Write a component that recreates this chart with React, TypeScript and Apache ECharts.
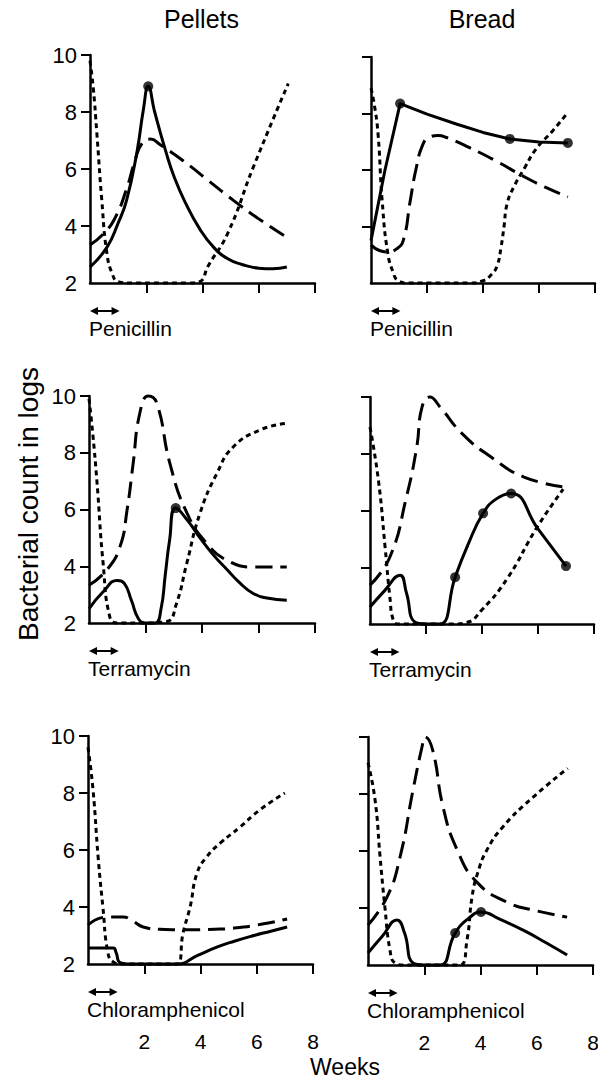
import React, { useEffect, useRef } from "react";
import * as echarts from "echarts";

// ---------- data (weeks, log bacterial count) ----------
const weekTicks = [2, 4, 6, 8];
const logTickLabels = [2, 4, 6, 8, 10];
const logTickMarks = [4, 6, 8, 10];
const columnTitles = ["Pellets", "Bread"];
const drugs = ["Penicillin", "Terramycin", "Chloramphenicol"];
const drugPeriod = [0, 1.05];

// Pellets – Penicillin
const pelPenSolid = [[0, 2.56], [0.6, 3.25], [1.0, 4.1], [1.3, 4.9], [1.67, 6.6], [1.9, 8.1], [2.07, 8.9], [2.3, 8.0], [2.7, 6.6], [3.0, 5.7], [3.4, 4.8], [3.9, 3.9], [4.4, 3.25], [4.9, 2.85], [5.4, 2.65], [6.0, 2.52], [6.5, 2.5], [7.0, 2.56]];
const pelPenDashed = [[0, 3.33], [0.5, 3.75], [0.9, 4.3], [1.3, 5.3], [1.6, 6.3], [1.85, 6.9], [2.15, 7.05], [2.5, 6.85], [3.3, 6.3], [4.2, 5.6], [5.1, 4.9], [6.0, 4.25], [7.0, 3.6]];
const pelPenDotted = [[0, 9.8], [0.12, 8.8], [0.24, 7.3], [0.42, 4.9], [0.6, 3.05], [0.8, 2.3], [1.0, 2.05], [1.5, 2.0], [2.5, 2.0], [3.5, 2.0], [3.9, 2.05], [4.2, 2.6], [4.9, 3.75], [5.8, 6.05], [7.05, 9.0]];
const pelPenDots = [[2.07, 8.9]];

// Bread – Penicillin
const brPenSolid = [[0, 3.5], [0.5, 6.0], [1.04, 8.35], [2.0, 7.98], [3.07, 7.62], [4.0, 7.33], [4.96, 7.1], [6.0, 6.99], [7.03, 6.96]];
const brPenDashed = [[0, 3.35], [0.3, 3.15], [0.6, 3.1], [0.9, 3.2], [1.15, 3.5], [1.4, 4.9], [1.6, 6.0], [1.85, 6.9], [2.1, 7.17], [2.4, 7.22], [2.7, 7.15], [3.5, 6.8], [4.5, 6.3], [5.4, 5.8], [6.2, 5.4], [7.03, 5.05]];
const brPenDotted = [[0, 8.9], [0.12, 8.3], [0.25, 7.3], [0.4, 4.9], [0.6, 3.05], [0.8, 2.35], [0.95, 2.1], [1.3, 2.0], [2.5, 2.0], [3.5, 2.0], [4.0, 2.08], [4.3, 2.3], [4.5, 2.6], [4.65, 3.3], [4.75, 4.0], [4.86, 4.8], [5.1, 5.4], [5.5, 6.1], [5.9, 6.75], [6.5, 7.4], [7.0, 8.0]];
const brPenDots = [[1.04, 8.35], [4.96, 7.1], [7.03, 6.96]];

// Pellets – Terramycin
const pelTerSolid = [[0, 2.5], [0.5, 3.1], [1.0, 3.5], [1.25, 3.4], [1.5, 2.8], [1.75, 2.15], [2.0, 2.0], [2.35, 2.0], [2.55, 2.5], [2.7, 3.7], [2.85, 4.9], [3.07, 6.05], [3.5, 5.6], [3.93, 5.0], [4.4, 4.4], [4.9, 3.87], [5.3, 3.45], [5.8, 3.05], [6.3, 2.88], [7.0, 2.8]];
const pelTerDashed = [[0, 3.33], [0.63, 3.87], [1.1, 4.7], [1.35, 6.0], [1.56, 7.6], [1.8, 9.4], [2.1, 10.0], [2.4, 9.75], [2.87, 7.6], [3.47, 5.87], [4.17, 4.8], [4.9, 4.2], [5.8, 3.97], [7.0, 3.97]];
const pelTerDotted = [[0, 9.9], [0.14, 8.6], [0.28, 7.0], [0.5, 4.1], [0.74, 2.2], [1.0, 2.0], [2.0, 2.0], [2.75, 2.05], [3.1, 2.7], [3.46, 4.1], [3.93, 5.87], [4.53, 7.28], [5.1, 8.2], [6.05, 8.8], [7.0, 9.04]];
const pelTerDots = [[3.07, 6.05]];

// Bread – Terramycin
const brTerSolid = [[0, 2.6], [0.5, 3.15], [1.07, 3.72], [1.3, 3.1], [1.6, 2.07], [2.0, 2.0], [2.5, 2.0], [3.04, 3.65], [3.5, 4.8], [4.04, 5.9], [4.5, 6.4], [5.04, 6.6], [6.0, 5.35], [7.0, 4.04]];
const brTerDashed = [[0, 3.37], [0.71, 4.36], [1.3, 6.47], [1.67, 8.24], [1.86, 9.65], [2.14, 10.0], [2.5, 9.65], [3.3, 8.7], [4.3, 7.9], [5.5, 7.18], [6.96, 6.83]];
const brTerDotted = [[0, 8.94], [0.3, 7.07], [0.54, 4.7], [0.71, 2.95], [0.83, 2.14], [1.0, 2.0], [2.0, 2.0], [3.0, 2.0], [3.45, 2.05], [4.0, 2.5], [4.9, 3.6], [5.96, 5.4], [6.9, 6.75]];
const brTerDots = [[3.04, 3.65], [4.04, 5.9], [5.04, 6.6], [7.0, 4.04]];

// Pellets – Chloramphenicol
const pelChlSolid = [[0, 2.56], [0.9, 2.56], [1.0, 2.4], [1.14, 2.05], [1.5, 2.0], [3.17, 2.0], [3.9, 2.3], [4.6, 2.6], [5.2, 2.8], [5.9, 3.0], [6.5, 3.15], [7.08, 3.3]];
const pelChlDashed = [[0, 3.37], [0.67, 3.65], [1.25, 3.65], [1.6, 3.5], [1.96, 3.3], [2.56, 3.22], [3.5, 3.2], [4.5, 3.22], [5.2, 3.26], [6.2, 3.4], [7.08, 3.58]];
const pelChlDotted = [[0, 9.6], [0.18, 8.1], [0.36, 5.75], [0.53, 4.0], [0.71, 2.39], [0.9, 2.07], [1.2, 2.0], [3.17, 2.0], [3.38, 3.09], [3.63, 4.0], [3.88, 5.2], [4.23, 5.77], [4.7, 6.24], [5.4, 6.8], [6.1, 7.4], [7.0, 8.0]];
const pelChlDots: number[][] = [];

// Bread – Chloramphenicol
const brChlSolid = [[0, 2.42], [0.5, 3.0], [1.03, 3.58], [1.3, 3.12], [1.6, 2.07], [2.0, 2.0], [2.56, 2.0], [3.1, 3.12], [3.63, 3.68], [4.02, 3.86], [4.7, 3.6], [5.5, 3.23], [6.3, 2.8], [7.08, 2.35]];
const brChlDashed = [[0, 3.4], [0.68, 4.39], [1.14, 5.79], [1.6, 8.14], [1.92, 9.65], [2.03, 10.0], [2.3, 9.54], [2.67, 7.54], [3.17, 6.04], [3.88, 4.9], [4.95, 4.2], [6.0, 3.9], [7.08, 3.68]];
const brChlDotted = [[0, 9.1], [0.25, 7.8], [0.43, 5.79], [0.6, 4.04], [0.78, 2.53], [0.96, 2.07], [1.3, 2.0], [3.27, 2.0], [3.52, 2.88], [3.7, 4.39], [3.9, 5.23], [4.23, 6.04], [4.8, 6.85], [5.77, 7.8], [7.1, 8.9]];
const brChlDots = [[3.1, 3.12], [4.02, 3.86]];

const panels = [
  { solid: pelPenSolid, dashed: pelPenDashed, dotted: pelPenDotted, dots: pelPenDots, drug: drugs[0] },
  { solid: brPenSolid, dashed: brPenDashed, dotted: brPenDotted, dots: brPenDots, drug: drugs[0] },
  { solid: pelTerSolid, dashed: pelTerDashed, dotted: pelTerDotted, dots: pelTerDots, drug: drugs[1] },
  { solid: brTerSolid, dashed: brTerDashed, dotted: brTerDotted, dots: brTerDots, drug: drugs[1] },
  { solid: pelChlSolid, dashed: pelChlDashed, dotted: pelChlDotted, dots: pelChlDots, drug: drugs[2] },
  { solid: brChlSolid, dashed: brChlDashed, dotted: brChlDotted, dots: brChlDots, drug: drugs[2] },
];

// ---------- layout / style ----------
const W = 598;
const H = 1083;
const FONT = '"Liberation Sans", Arial, Helvetica, sans-serif';
const gridRects = [
  { left: 90, top: 55, width: 225, height: 228 },
  { left: 371, top: 57, width: 224, height: 226 },
  { left: 89, top: 396, width: 226, height: 227 },
  { left: 370, top: 397, width: 224, height: 227 },
  { left: 88, top: 736, width: 225, height: 228 },
  { left: 368, top: 737, width: 225, height: 228 },
];
// solid curve of Bread/Penicillin is drawn as a polyline between points
const solidSmooth = [0.5, 0, 0.5, 0.5, 0.5, 0.5];

export default function App() {
  const ref = useRef<HTMLDivElement>(null);
  useEffect(() => {
    if (!ref.current) return;
    const chart = echarts.init(ref.current, null, { renderer: "svg", width: W, height: H });
    const axisLineStyle = { color: "#000", width: 2.5 };

    const grid = gridRects.map((r) => ({ ...r, containLabel: false, outerBoundsMode: "none" }));
    const xAxis = gridRects.map((_, i) => ({
      type: "value",
      gridIndex: i,
      min: 0,
      max: 8,
      interval: 2,
      axisLine: { show: true, onZero: false, lineStyle: axisLineStyle },
      axisTick: { show: true, inside: false, length: 10, customValues: weekTicks, lineStyle: { color: "#000", width: 2 } },
      axisLabel: { show: i >= 4, customValues: weekTicks, margin: 67, fontSize: 21, color: "#000", fontFamily: FONT },
      splitLine: { show: false },
    }));
    const yAxis = gridRects.map((_, i) => ({
      type: "value",
      gridIndex: i,
      min: 2,
      max: 10,
      interval: 2,
      axisLine: { show: true, onZero: false, lineStyle: axisLineStyle },
      axisTick: { show: true, inside: false, length: 9, customValues: logTickMarks, lineStyle: { color: "#000", width: 2 } },
      axisLabel: { show: i % 2 === 0, customValues: logTickLabels, margin: 13, fontSize: 22, color: "#000", fontFamily: FONT },
      splitLine: { show: false },
    }));

    const series: any[] = [];
    panels.forEach((p, i) => {
      const base = {
        type: "line",
        xAxisIndex: i,
        yAxisIndex: i,
        symbol: "none",
        showSymbol: false,
        smooth: 0.5,
        clip: false,
        silent: true,
      };
      series.push({ ...base, smooth: solidSmooth[i] || false, data: p.solid, lineStyle: { color: "#000", width: 3, type: "solid" } });
      series.push({ ...base, data: p.dashed, lineStyle: { color: "#000", width: 3, type: [17, 8] } });
      series.push({ ...base, data: p.dotted, lineStyle: { color: "#000", width: 3, type: [5, 4] } });
      if (p.dots.length) {
        series.push({
          type: "scatter",
          xAxisIndex: i,
          yAxisIndex: i,
          data: p.dots,
          symbol: "circle",
          symbolSize: 10,
          itemStyle: { color: "#000" },
          silent: true,
        });
      }
    });

    chart.setOption({
      animation: false,
      backgroundColor: "#fff",
      grid,
      xAxis,
      yAxis,
      series,
    });

    // annotations positioned through the axes
    const graphics: any[] = [];
    const txt = (text: string, x: number, y: number, size: number, align: string, extra: any = {}) => ({
      type: "text",
      x,
      y,
      ...extra,
      style: {
        text,
        x: 0,
        y: 0,
        fontSize: size,
        fontFamily: FONT,
        fill: "#000",
        align,
        textAlign: align,
        verticalAlign: "middle",
        textVerticalAlign: "middle",
      },
    });

    panels.forEach((p, i) => {
      const a = chart.convertToPixel({ gridIndex: i } as any, [drugPeriod[0], 2]) as number[];
      const b = chart.convertToPixel({ gridIndex: i } as any, [drugPeriod[1], 2]) as number[];
      const ay = a[1] + 28;
      const x0 = a[0];
      const x1 = b[0];
      graphics.push({ type: "line", shape: { x1: x0 + 3, y1: ay, x2: x1 - 3, y2: ay }, style: { stroke: "#000", lineWidth: 2 } });
      graphics.push({ type: "polygon", shape: { points: [[x0, ay], [x0 + 8, ay - 4], [x0 + 8, ay + 4]] }, style: { fill: "#000" } });
      graphics.push({ type: "polygon", shape: { points: [[x1, ay], [x1 - 8, ay - 4], [x1 - 8, ay + 4]] }, style: { fill: "#000" } });
      graphics.push(txt(p.drug, x0 - 1, a[1] + 45, 21, "left"));
    });

    // column titles over the centre of each column's axes
    [0, 1].forEach((c) => {
      const mid = chart.convertToPixel({ gridIndex: c } as any, [4, 10]) as number[];
      graphics.push(txt(columnTitles[c], mid[0] - 1, 19, 25, "center"));
    });

    graphics.push(txt("Bacterial count in logs", 28, 504, 28, "center", { rotation: Math.PI / 2 }));
    graphics.push(txt("Weeks", 345, 1067, 23, "center"));

    chart.setOption({ graphic: { elements: graphics } });

    return () => chart.dispose();
  }, []);
  return <div ref={ref} style={{ position: "absolute", left: 0, top: 0, width: W, height: H, background: "#fff" }} />;
}
